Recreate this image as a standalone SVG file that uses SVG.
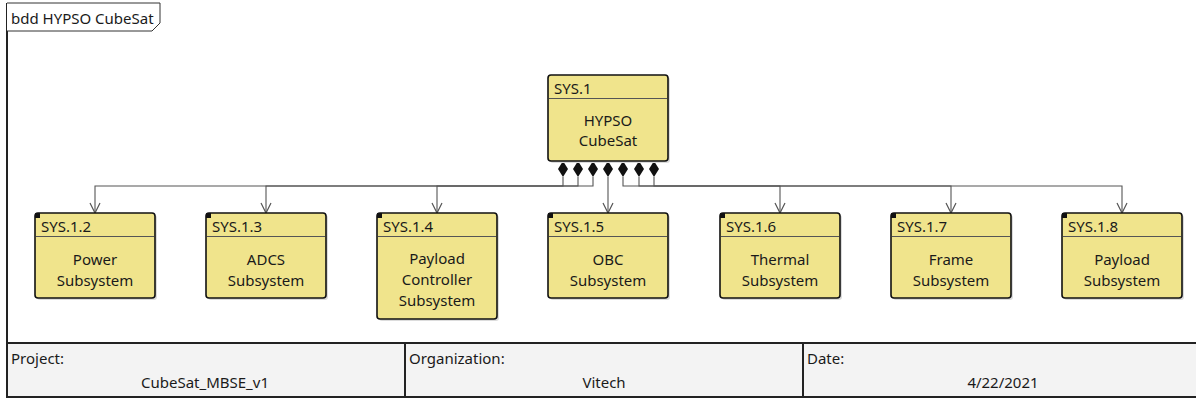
<svg xmlns="http://www.w3.org/2000/svg" width="1196" height="400" viewBox="0 0 1196 400">
<style>
text{font-family:"Noto Sans","Open Sans","Liberation Sans",sans-serif;font-size:15px;fill:#1a1a1a}
.blk{fill:#F0E48C;stroke:#111;stroke-width:1.6}
.shd{fill:#dcdcdc}
.sep{stroke:#555;stroke-width:1}
.mk{fill:#111}
.c{text-anchor:middle}
.con{fill:none;stroke:#555;stroke-width:1.1}
.dia{fill:#111}
.tb{fill:#F3F3F3;stroke:#222;stroke-width:2}
</style>
<defs>
<marker id="arr" viewBox="0 0 12 12" refX="11" refY="6" markerWidth="12" markerHeight="12" markerUnits="userSpaceOnUse" orient="auto">
<path d="M1,1 L11,6 L1,11" fill="none" stroke="#555" stroke-width="1.2"/>
</marker>
</defs>
<rect width="1196" height="400" fill="#fff"/>
<g id="frame">
<path d="M7,3 L7,343" stroke="#222" stroke-width="2" fill="none"/>
<path d="M7,3 L160,3 L160,23 L152,31 L7,31" fill="#fff" stroke="#333" stroke-width="1"/>
<text x="11" y="24">bdd HYPSO CubeSat</text>
</g>
<g id="connectors">
<path class="con" d="M563,177 V186 H95 V213" marker-end="url(#arr)"/>
<path class="con" d="M578,177 V186 H266 V213" marker-end="url(#arr)"/>
<path class="con" d="M593,177 V186 H437 V213" marker-end="url(#arr)"/>
<path class="con" d="M608,177 V213" marker-end="url(#arr)"/>
<path class="con" d="M623,177 V186 H780 V213" marker-end="url(#arr)"/>
<path class="con" d="M639,177 V186 H951 V213" marker-end="url(#arr)"/>
<path class="con" d="M654,177 V186 H1122 V213" marker-end="url(#arr)"/>
<path class="dia" d="M563,161 l5,8 l-5,8 l-5,-8z M578,161 l5,8 l-5,8 l-5,-8z M593,161 l5,8 l-5,8 l-5,-8z M608,161 l5,8 l-5,8 l-5,-8z M623,161 l5,8 l-5,8 l-5,-8z M639,161 l5,8 l-5,8 l-5,-8z M654,161 l5,8 l-5,8 l-5,-8z"/>
</g>
<g id="sys1">
<rect class="shd" x="550" y="77" width="120" height="86" rx="3"/>
<rect class="blk" x="548" y="75" width="120" height="86" rx="3"/>
<line class="sep" x1="549" y1="98.5" x2="667" y2="98.5"/>
<text x="554" y="94">SYS.1</text>
<text class="c" x="608" y="126">HYPSO</text>
<text class="c" x="608" y="146">CubeSat</text>
</g>
<g id="sys12">
<rect class="shd" x="37" y="215" width="120" height="85" rx="3"/>
<rect class="blk" x="35" y="213" width="120" height="85" rx="3"/>
<rect class="mk" x="35" y="213" width="5" height="5"/>
<line class="sep" x1="36" y1="236.5" x2="154" y2="236.5"/>
<text x="41" y="232">SYS.1.2</text>
<text class="c" x="95" y="265">Power</text>
<text class="c" x="95" y="286">Subsystem</text>
</g>
<g id="sys13">
<rect class="shd" x="208" y="215" width="120" height="85" rx="3"/>
<rect class="blk" x="206" y="213" width="120" height="85" rx="3"/>
<rect class="mk" x="206" y="213" width="5" height="5"/>
<line class="sep" x1="207" y1="236.5" x2="325" y2="236.5"/>
<text x="212" y="232">SYS.1.3</text>
<text class="c" x="266" y="265">ADCS</text>
<text class="c" x="266" y="286">Subsystem</text>
</g>
<g id="sys14">
<rect class="shd" x="379" y="215" width="120" height="106" rx="3"/>
<rect class="blk" x="377" y="213" width="120" height="106" rx="3"/>
<rect class="mk" x="377" y="213" width="5" height="5"/>
<line class="sep" x1="378" y1="236.5" x2="496" y2="236.5"/>
<text x="383" y="232">SYS.1.4</text>
<text class="c" x="437" y="264">Payload</text>
<text class="c" x="437" y="285">Controller</text>
<text class="c" x="437" y="306">Subsystem</text>
</g>
<g id="sys15">
<rect class="shd" x="550" y="215" width="120" height="85" rx="3"/>
<rect class="blk" x="548" y="213" width="120" height="85" rx="3"/>
<rect class="mk" x="548" y="213" width="5" height="5"/>
<line class="sep" x1="549" y1="236.5" x2="667" y2="236.5"/>
<text x="554" y="232">SYS.1.5</text>
<text class="c" x="608" y="265">OBC</text>
<text class="c" x="608" y="286">Subsystem</text>
</g>
<g id="sys16">
<rect class="shd" x="722" y="215" width="120" height="85" rx="3"/>
<rect class="blk" x="720" y="213" width="120" height="85" rx="3"/>
<rect class="mk" x="720" y="213" width="5" height="5"/>
<line class="sep" x1="721" y1="236.5" x2="839" y2="236.5"/>
<text x="726" y="232">SYS.1.6</text>
<text class="c" x="780" y="265">Thermal</text>
<text class="c" x="780" y="286">Subsystem</text>
</g>
<g id="sys17">
<rect class="shd" x="893" y="215" width="120" height="85" rx="3"/>
<rect class="blk" x="891" y="213" width="120" height="85" rx="3"/>
<rect class="mk" x="891" y="213" width="5" height="5"/>
<line class="sep" x1="892" y1="236.5" x2="1010" y2="236.5"/>
<text x="897" y="232">SYS.1.7</text>
<text class="c" x="951" y="265">Frame</text>
<text class="c" x="951" y="286">Subsystem</text>
</g>
<g id="sys18">
<rect class="shd" x="1064" y="215" width="120" height="85" rx="3"/>
<rect class="blk" x="1062" y="213" width="120" height="85" rx="3"/>
<rect class="mk" x="1062" y="213" width="5" height="5"/>
<line class="sep" x1="1063" y1="236.5" x2="1181" y2="236.5"/>
<text x="1068" y="232">SYS.1.8</text>
<text class="c" x="1122" y="265">Payload</text>
<text class="c" x="1122" y="286">Subsystem</text>
</g>
<g id="titleblock">
<rect class="tb" x="7" y="343" width="398" height="54"/>
<rect class="tb" x="405" y="343" width="398" height="54"/>
<rect class="tb" x="803" y="343" width="400" height="54"/>
<text x="11" y="364">Project:</text>
<text class="c" x="205" y="388">CubeSat_MBSE_v1</text>
<text x="409" y="364">Organization:</text>
<text class="c" x="604" y="388">Vitech</text>
<text x="807" y="364">Date:</text>
<text class="c" x="1003" y="388">4/22/2021</text>
</g>
</svg>
